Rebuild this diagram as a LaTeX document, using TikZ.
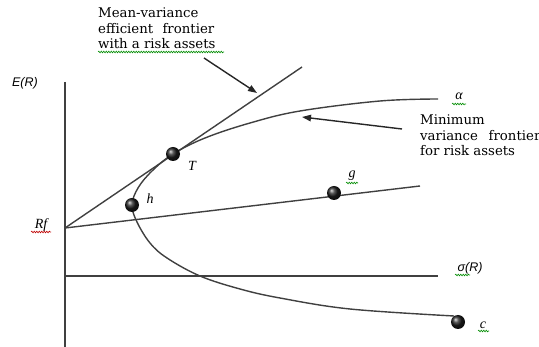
\documentclass[tikz,border=0pt]{standalone}
\usepackage{fontspec}
\setmainfont{DejaVu Serif}
\newfontfamily\labsans{Liberation Sans}
\newfontfamily\labserif{Liberation Serif}
\usetikzlibrary{arrows.meta,decorations.pathmorphing}
\begin{document}
\begin{tikzpicture}[x=1pt,y=-1pt,
  ln/.style={line width=1.4pt,draw=black!75},
  arr/.style={line width=1.4pt,draw=black!85,-{Triangle[length=9pt,width=6.5pt]}},
  ball/.style={circle,minimum size=14pt,inner sep=0pt,shading=ball,ball color=black!88},
  txt/.style={anchor=base west,inner sep=0pt,font=\fontsize{13.3}{15.5}\selectfont},
  lab/.style={inner sep=0pt,font=\labserif\itshape\fontsize{14}{16}\selectfont},
  slab/.style={inner sep=0pt,font=\labsans\itshape\fontsize{12.5}{15}\selectfont},
  squig/.style={draw=green!55!black,line width=0.6pt,decorate,decoration={snake,segment length=2.5pt,amplitude=0.8pt}},
  rsquig/.style={draw=red!75!black,line width=0.6pt,decorate,decoration={snake,segment length=2.5pt,amplitude=0.8pt}}]
\useasboundingbox (0,0) rectangle (539,347);
% axes
\coordinate (ytop) at (65,82);
\coordinate (ybot) at (65,347);
\coordinate (xl) at (65,276);
\coordinate (xr) at (438,276);
\draw[ln] (ytop) -- (ybot);
\draw[ln] (xl) -- (xr);
\coordinate (Rf) at (65,228);
\coordinate (tanEnd) at (302,67);
\coordinate (gEnd) at (420,186);
\draw[ln] (Rf) -- (tanEnd);
\draw[ln] (Rf) -- (gEnd);
% frontier
\draw[ln] plot[smooth,tension=0.6] coordinates {(438,99) (380,101) (300,111) (250,123) (205,138) (173,154) (152,171) (138,188) (132,205) (137,222) (150,243) (167,258) (200,276) (240,289) (280,298) (350,309) (454,316)};
% points
\node[ball] (T) at (173,154) {};
\node[ball] (h) at (132,205) {};
\node[ball] (g) at (334,193) {};
\node[ball] (c) at (458,322) {};
% labels
\node[slab] (ER) at (25,83) {E(R)};
\node[slab] (sR) at (470,268) {σ(R)};
\node[lab] (Tl) at (192,166) {T};
\node[lab] (hl) at (150,199) {h};
\node[lab] (gl) at (352,176) {g};
\node[lab] (cl) at (483,325) {c};
\node[lab] (al) at (459,96) {α};
\node[lab] (Rfl) at (41,225) {Rf};
% squiggles
\draw[squig] (98,52) -- (224,52);
\draw[squig] (452,104) -- (466,104);
\draw[squig] (346,183) -- (358,183);
\draw[squig] (455,275) -- (470,275);
\draw[squig] (478,331) -- (489,331);
\draw[rsquig] (31,232) -- (51,232);
% texts
\node[txt] (t1) at (98,18) {Mean-variance};
\node[txt] (t2) at (98,33.5) {efficient\hspace{0.7em}frontier};
\node[txt] (t3) at (98,49) {with a risk assets};
\node[txt] (m1) at (420,125) {Minimum};
\node[txt] (m2) at (420,140.5) {variance\hspace{0.8em}frontier};
\node[txt] (m3) at (420,156) {for risk assets};
% arrows
\coordinate (a1s) at (204,58);
\coordinate (a1e) at (257,93);
\coordinate (a2s) at (402,129);
\coordinate (a2e) at (302,117);
\draw[arr] (a1s) -- (a1e);
\draw[arr] (a2s) -- (a2e);
\end{tikzpicture}
\end{document}
